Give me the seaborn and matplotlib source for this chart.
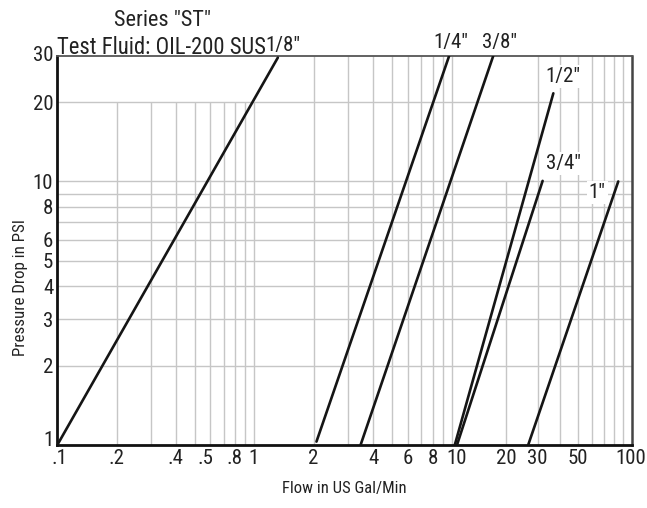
import numpy as np
import pandas as pd
import matplotlib
matplotlib.use("Agg")
import matplotlib.pyplot as plt
import seaborn as sns
from matplotlib.ticker import FixedLocator, FixedFormatter, NullLocator, NullFormatter
from matplotlib.transforms import ScaledTranslation

# ---- data -------------------------------------------------------------
pipe_sizes = ['1/8"', '1/4"', '3/8"', '1/2"', '3/4"', '1"']
flow_start = [0.1, 2.07, 3.46, 10.4, 10.7, 26.6]
drop_start = [1.0, 1.03, 1.0, 1.0, 1.0, 1.0]
flow_end = [1.32, 9.7, 17.0, 36.7, 32.0, 84.2]
drop_end = [29.5, 29.9, 29.9, 21.6, 10.05, 10.0]

x_tick_values = [0.1, 0.2, 0.4, 0.5, 0.8, 1, 2, 4, 6, 8, 10, 20, 30, 50, 100]
x_tick_labels = ['.1', '.2', '.4', '.5', '.8', '1', '2', '4', '6', '8', '10',
                 '20', '30', '50', '100']
y_tick_values = [1, 2, 3, 4, 5, 6, 8, 10, 20, 30]
y_tick_labels = ['1', '2', '3', '4', '5', '6', '8', '10', '20', '30']

# grid rulings of the log paper
vgrid_first_decade = [0.2, 0.3, 0.4, 0.5, 0.6, 0.7, 0.8, 0.9, 1]
vgrid_full = [2, 3, 4, 5, 6, 7, 8, 9, 10, 30, 40, 50, 60, 70, 80, 90]
vgrid_short = [20]
hgrid = [2, 3, 4, 5, 6, 7, 8, 9, 10, 20]

# ---- figure -----------------------------------------------------------
W, H, DPI = 647, 508, 100
sns.set_theme(style="white")
plt.rcParams["font.family"] = ["Roboto Condensed", "Archivo Narrow", "Liberation Sans", "DejaVu Sans"]

fig = plt.figure(figsize=(W / DPI, H / DPI), dpi=DPI, facecolor="white")
ax = fig.add_axes([57.3 / W, 1 - 445 / H, 574.4 / W, 389.3 / H])

# log paper whose decades are printed with slightly different widths
decade_logs = np.array([-1.0, 0.0, 1.0, 2.0])
decade_pos = np.array([0.0, 196.7, 394.4, 574.4])


def paper_forward(x):
    x = np.asarray(x, dtype=float)
    with np.errstate(divide="ignore", invalid="ignore"):
        lx = np.log10(x)
        out = np.interp(lx, decade_logs, decade_pos)
        lo = decade_pos[0] + (lx - decade_logs[0]) * (decade_pos[1] - decade_pos[0])
        hi = decade_pos[-1] + (lx - decade_logs[-1]) * (decade_pos[-1] - decade_pos[-2])
        out = np.where(lx < decade_logs[0], lo, out)
        out = np.where(lx > decade_logs[-1], hi, out)
    return out


def paper_inverse(u):
    u = np.asarray(u, dtype=float)
    with np.errstate(over="ignore", invalid="ignore"):
        lx = np.interp(u, decade_pos, decade_logs)
        lo = decade_logs[0] + (u - decade_pos[0]) / (decade_pos[1] - decade_pos[0])
        hi = decade_logs[-1] + (u - decade_pos[-1]) / (decade_pos[-1] - decade_pos[-2])
        lx = np.where(u < decade_pos[0], lo, lx)
        lx = np.where(u > decade_pos[-1], hi, lx)
        return 10.0 ** lx


df = pd.DataFrame({
    "size": pipe_sizes * 2,
    "flow": flow_start + flow_end,
    "drop": drop_start + drop_end,
})

ink = "#151515"
sns.lineplot(data=df, x="flow", y="drop", hue="size", estimator=None, sort=False,
             palette={s: ink for s in pipe_sizes}, legend=False, linewidth=1.9,
             ax=ax, zorder=3)

ax.set_xscale("function", functions=(paper_forward, paper_inverse))
ax.set_yscale("log")
ax.set_xlim(0.1, 100)
ax.set_ylim(1, 30)
ax.grid(False)

grid_kw = dict(color="#c6c6c6", linewidth=1.0, zorder=1)
ax.vlines(vgrid_first_decade, 1, 20, **grid_kw)
ax.vlines(vgrid_full, 1, 30, **grid_kw)
ax.vlines(vgrid_short, 1, 10, **grid_kw)
ax.hlines(hgrid, 0.1, 100, **grid_kw)

ax.xaxis.set_major_locator(FixedLocator(x_tick_values))
ax.xaxis.set_major_formatter(FixedFormatter(x_tick_labels))
ax.xaxis.set_minor_locator(NullLocator())
ax.xaxis.set_minor_formatter(NullFormatter())
ax.yaxis.set_major_locator(FixedLocator(y_tick_values))
ax.yaxis.set_major_formatter(FixedFormatter(y_tick_labels))
ax.yaxis.set_minor_locator(NullLocator())
ax.yaxis.set_minor_formatter(NullFormatter())
ax.tick_params(axis="both", length=0, labelsize=15, labelcolor="#222222")
ax.tick_params(axis="x", pad=3)
ax.tick_params(axis="y", pad=3)

# small hand-set nudges of a few printed scale numbers
x_nudge = {".1": 2, ".5": 11, "10": 5, "100": -1}
y_nudge = {"1": 7, "30": 2}
fig.canvas.draw()
for lbl in ax.get_xticklabels():
    if lbl.get_text() in x_nudge:
        lbl.set_transform(lbl.get_transform() +
                          ScaledTranslation(x_nudge[lbl.get_text()] / DPI, 0, fig.dpi_scale_trans))
for lbl in ax.get_yticklabels():
    if lbl.get_text() in y_nudge:
        lbl.set_transform(lbl.get_transform() +
                          ScaledTranslation(0, y_nudge[lbl.get_text()] / DPI, fig.dpi_scale_trans))

for side in ("left", "bottom"):
    ax.spines[side].set_color("#111111")
    ax.spines[side].set_linewidth(2.0)
ax.spines["top"].set_color("#555555")
ax.spines["top"].set_linewidth(1.3)
ax.spines["right"].set_color("#444444")
ax.spines["right"].set_linewidth(1.8)

ax.set_xlabel("Flow in US Gal/Min", fontsize=12, color="#222222")
ax.xaxis.label.set_va("center")
ax.xaxis.set_label_coords(0.5, (445 - 488) / 389.3)
ax.set_ylabel("Pressure Drop in PSI", fontsize=12.2, color="#222222")
ax.yaxis.label.set_va("center")
ax.yaxis.set_label_coords((20 - 57.3) / 574.4, (445 - 287.5) / 389.3)

fig.text(162 / W, 1 - 26.5 / H, 'Series "ST"', ha="center", va="baseline",
         fontsize=16, color="#222222")
fig.text(57 / W, 1 - 54.5 / H, "Test Fluid: OIL-200 SUS", ha="left", va="baseline",
         fontsize=16.3, color="#222222")

# size labels placed next to the upper end of each curve
label_offsets = {'1/8"': (5, 12), '1/4"': (2, 14), '3/8"': (6, 14),
                 '1/2"': (10, 17), '3/4"': (21, 17), '1"': (-21, -11)}
boxed = {'1/2"', '3/4"', '1"'}
for size, fx, fy in zip(pipe_sizes, flow_end, drop_end):
    dx, dy = label_offsets[size]
    box = dict(facecolor="white", edgecolor="none", pad=1.5) if size in boxed else None
    ax.annotate(size, xy=(fx, fy), xytext=(dx, dy), textcoords="offset pixels",
                ha="center", va="center", fontsize=15, color="#222222",
                bbox=box, annotation_clip=False, zorder=4)

fig.savefig("out.png", dpi=DPI, facecolor="white")
